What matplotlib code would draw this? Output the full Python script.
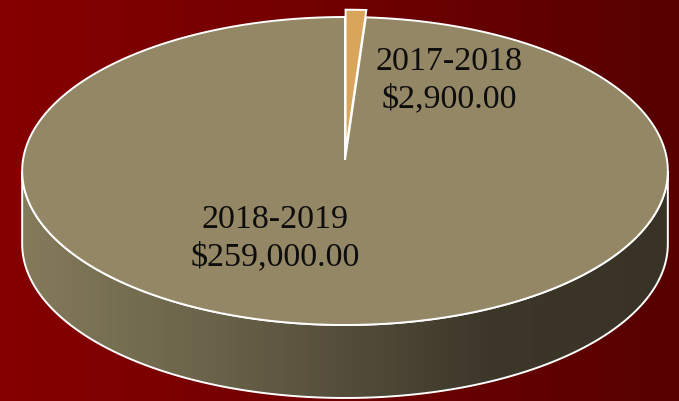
import matplotlib.pyplot as plt
import numpy as np
from matplotlib.colors import LinearSegmentedColormap
from matplotlib.patches import Polygon

# data
labels = ["2017-2018", "2018-2019"]
values = [2900, 259000]
value_text = ["$2,900.00", "$259,000.00"]
colors = ["#D8A55B", "#948766"]
explode = [0.055, 0.0]

W, H = 679, 401
cx, cy = 345, 160          # pie centre in pixels
A, B, k = 322, 153.2, 0.0714  # half width, half depth, perspective
depth = 73


def project(u, v, drop=0.0):
    d = 1 + k * v
    return cx + A * u / d, cy - B * v / d + drop


fig = plt.figure(figsize=(W / 100, H / 100), dpi=100)
ax = fig.add_axes([0, 0, 1, 1])
ax.set_xlim(0, W)
ax.set_ylim(H, 0)
ax.axis("off")

# background gradient
bg = LinearSegmentedColormap.from_list("bg", ["#860000", "#700000", "#560000"])
grad = np.tile(np.linspace(0, 1, 256), (8, 1))
ax.imshow(grad, cmap=bg, extent=[0, W, H, 0], aspect="auto", zorder=0)

# side wall of the big slice
t_r = np.arccos(-k)
t_l = 2 * np.pi - t_r
ts = np.linspace(t_r, t_l, 300)
top_x, top_y = project(np.sin(ts), np.cos(ts))
bot_x, bot_y = project(np.sin(ts[::-1]), np.cos(ts[::-1]), depth)
side = Polygon(np.column_stack([np.r_[top_x, bot_x], np.r_[top_y, bot_y]]),
               closed=True, facecolor="none", edgecolor="white", lw=1.4, zorder=2)
ax.add_patch(side)
side_cm = LinearSegmentedColormap.from_list(
    "side", [(0, "#847b5b"), (0.3, "#6a6249"), (0.5, "#544d3a"),
             (0.72, "#3d372a"), (1, "#393327")])
img = ax.imshow(np.tile(np.linspace(0, 1, 256), (8, 1)), cmap=side_cm,
                extent=[top_x.min(), top_x.max(), H, 0], aspect="auto", zorder=1)
img.set_clip_path(side)

# top faces
total = sum(values)
start = 0.0
for lab, val, col, ex in zip(labels, values, colors, explode):
    span = 2 * np.pi * val / total
    mid = start + span / 2
    ou, ov = ex * np.sin(mid), ex * np.cos(mid)
    th = np.linspace(start, start + span, max(int(span * 80), 10))
    us = np.r_[ou, ou + np.sin(th)]
    vs = np.r_[ov, ov + np.cos(th)]
    px, py = project(us, vs)
    ax.add_patch(Polygon(np.column_stack([px, py]), closed=True, facecolor=col,
                         edgecolor="white", lw=1.4, joinstyle="miter", zorder=3))
    start += span

font = dict(family="Liberation Serif", fontsize=24.5, color="#0d0d0d",
            ha="center", va="center", zorder=5, linespacing=1.28)
ax.text(449, 80, f"{labels[0]}\n{value_text[0]}", **font)
ax.text(275, 238, f"{labels[1]}\n{value_text[1]}", **font)

fig.savefig("out.png", dpi=100)
